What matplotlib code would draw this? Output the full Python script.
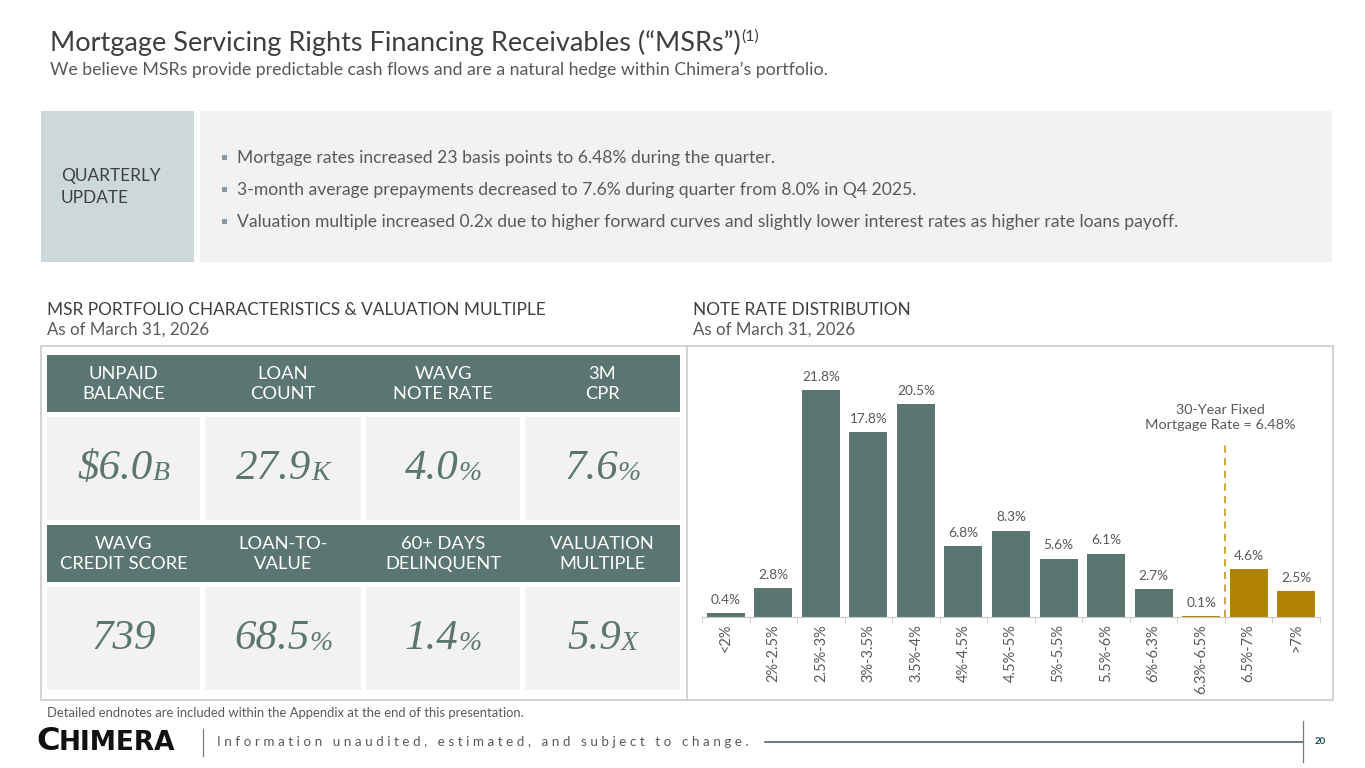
import matplotlib

matplotlib.use("Agg")
import matplotlib.pyplot as plt
import numpy as np
from matplotlib.patches import Rectangle

matplotlib.rcParams["font.family"] = ["Lato", "DejaVu Sans"]

TEAL = "#5b7670"
GOLD = "#b08305"
DARK = "#3f3f3f"
GREY = "#595959"

# ---- data ----
rate_buckets = ["<2%", "2%-2.5%", "2.5%-3%", "3%-3.5%", "3.5%-4%", "4%-4.5%", "4.5%-5%",
                "5%-5.5%", "5.5%-6%", "6%-6.3%", "6.3%-6.5%", "6.5%-7%", ">7%"]
rate_share = [0.4, 2.8, 21.8, 17.8, 20.5, 6.8, 8.3, 5.6, 6.1, 2.7, 0.1, 4.6, 2.5]
above_market = [False] * 10 + [True, True, True]
mortgage_rate_pos = 10.5

stat_labels_row1 = ["UNPAID\nBALANCE", "LOAN\nCOUNT", "WAVG\nNOTE RATE", "3M\nCPR"]
stat_values_row1 = [("$6.0", "B"), ("27.9", "K"), ("4.0", "%"), ("7.6", "%")]
stat_labels_row2 = ["WAVG\nCREDIT SCORE", "LOAN-TO-\nVALUE", "60+ DAYS\nDELINQUENT", "VALUATION\nMULTIPLE"]
stat_values_row2 = [("739", ""), ("68.5", "%"), ("1.4", "%"), ("5.9", "X")]

bullets = [
    "Mortgage rates increased 23 basis points to 6.48% during the quarter.",
    "3-month average prepayments decreased to 7.6% during quarter from 8.0% in Q4 2025.",
    "Valuation multiple increased 0.2x due to higher forward curves and slightly lower interest rates as higher rate loans payoff.",
]

W, H = 1365, 768
fig = plt.figure(figsize=(W / 100, H / 100), dpi=100)
bg = fig.add_axes([0, 0, 1, 1])
bg.set_xlim(0, W)
bg.set_ylim(H, 0)
bg.axis("off")
renderer = fig.canvas.get_renderer()


def text_width(t):
    return t.get_window_extent(renderer).width


# ---- title ----
title = bg.text(50, 43, "Mortgage Servicing Rights Financing Receivables (\u201cMSRs\u201d)",
                fontsize=19.5, color=DARK, va="center", ha="left")
bg.text(50 + text_width(title) + 1, 37, "(1)", fontsize=11.5, color=DARK, va="center", ha="left")
bg.text(50, 70, "We believe MSRs provide predictable cash flows and are a natural hedge within Chimera\u2019s portfolio.",
        fontsize=12.8, color=GREY, va="center", ha="left")

# ---- quarterly update box ----
bg.add_patch(Rectangle((41, 111), 153, 151, color="#cdd8da", lw=0))
bg.add_patch(Rectangle((200, 111), 1132, 151, color="#f2f2f2", lw=0))
bg.text(61, 187, "QUARTERLY\nUPDATE", fontsize=12.4, color=DARK, va="center", ha="left", linespacing=1.4)
for i, line in enumerate(bullets):
    y = 158 + i * 32
    bg.add_patch(Rectangle((222, y - 3), 5, 5, color="#8a9aa0", lw=0))
    bg.text(237, y, line, fontsize=12.6, color=GREY, va="center", ha="left")

# ---- section headings ----
for x, head in [(47, "MSR PORTFOLIO CHARACTERISTICS & VALUATION MULTIPLE"), (693, "NOTE RATE DISTRIBUTION")]:
    bg.text(x, 310, head, fontsize=12.4, color=DARK, va="center", ha="left")
    bg.text(x, 330, "As of March 31, 2026", fontsize=12.2, color=GREY, va="center", ha="left")

bg.add_patch(Rectangle((41, 346), 1292, 354, fill=False, edgecolor="#d0d0d0", lw=1.3))
bg.plot([687, 687], [346, 700], color="#d0d0d0", lw=1.3)

# ---- statistics grid ----
cell_x = [(47, 200), (205, 361), (366, 520), (525, 680)]


def draw_stat_row(labels, values, y_head, y_val):
    bg.add_patch(Rectangle((47, y_head), 633, 57, color=TEAL, lw=0))
    for (x0, x1), lab, (main, suffix) in zip(cell_x, labels, values):
        cx = (x0 + x1) / 2
        bg.text(cx, y_head + 29, lab, fontsize=13.2, color="white", ha="center", va="center", linespacing=1.3)
        bg.add_patch(Rectangle((x0, y_val), x1 - x0, 103, color="#f2f2f2", lw=0))
        t_main = bg.text(0, y_val + 52, main, fontsize=31, family="Liberation Serif", style="italic",
                         color=TEAL, ha="left", va="center")
        t_suf = bg.text(0, y_val + 56, suffix, fontsize=20, family="Liberation Serif", style="italic",
                        color=TEAL, ha="left", va="center")
        wm = text_width(t_main)
        ws = text_width(t_suf) if suffix else 0
        left = cx - (wm + ws) / 2
        t_main.set_x(left)
        t_suf.set_x(left + wm)


draw_stat_row(stat_labels_row1, stat_values_row1, 355, 417)
draw_stat_row(stat_labels_row2, stat_values_row2, 525, 587)

# ---- note rate distribution bars ----
ax_left, ax_right, ax_base, ax_top = 702, 1320, 617, 357
ax = fig.add_axes([ax_left / W, 1 - ax_base / H, (ax_right - ax_left) / W, (ax_base - ax_top) / H])
x = np.arange(len(rate_buckets))
colors = [GOLD if flag else TEAL for flag in above_market]
ax.bar(x, rate_share, width=0.8, color=colors)
for xi, v in zip(x, rate_share):
    ax.text(xi, v + 0.7, f"{v:.1f}%", ha="center", va="bottom", fontsize=9.8, color=GREY)
ax.set_xlim(-0.5, len(rate_buckets) - 0.5)
ax.set_ylim(0, 25)
ax.set_yticks([])
ax.set_xticks(x)
ax.set_xticklabels(rate_buckets, rotation=90, fontsize=10.5, color=GREY)
ax.tick_params(axis="x", length=0, pad=5)
ax.set_xticks(np.arange(-0.5, len(rate_buckets)), minor=True)
ax.tick_params(axis="x", which="minor", length=4, color="#c8c8c8", direction="out")
for side in ["top", "right", "left"]:
    ax.spines[side].set_visible(False)
ax.spines["bottom"].set_color("#c8c8c8")
ax.patch.set_alpha(0)
ax.plot([mortgage_rate_pos, mortgage_rate_pos], [0, 16.5], color="#c9a227", lw=1.3, ls=(0, (4, 3)))
ax.text(mortgage_rate_pos - 0.1, 19.2, "30-Year Fixed\nMortgage Rate = 6.48%", ha="center", va="center",
        fontsize=10.4, color=GREY, linespacing=1.25)

# ---- footer ----
bg.text(47, 713, "Detailed endnotes are included within the Appendix at the end of this presentation.",
        fontsize=9.4, color=GREY, va="center", ha="left")
bg.text(36, 741, "C", fontsize=23, weight="bold", family="DejaVu Sans", color="#111111", va="center", ha="left")
logo_rest = bg.text(59, 743, "HIMERA", fontsize=19, weight="bold", family="DejaVu Sans", color="#111111",
                    va="center", ha="left")
bg.plot([203, 203], [729, 756], color="#7a7a7a", lw=0.9)
spaced = "   ".join(" ".join(word) for word in "Information unaudited, estimated, and subject to change.".split())
bg.text(217, 742, spaced, fontsize=9.7, color=GREY, va="center", ha="left")
bg.plot([765, 1303], [742, 742], color="#3f5561", lw=1.1)
bg.plot([1303, 1303], [721, 762], color="#7a7a7a", lw=0.9)
bg.text(1320, 742, "20", fontsize=7, weight="bold", color="#1f4e5a", va="center", ha="center")

fig.savefig("out.png", dpi=100)
